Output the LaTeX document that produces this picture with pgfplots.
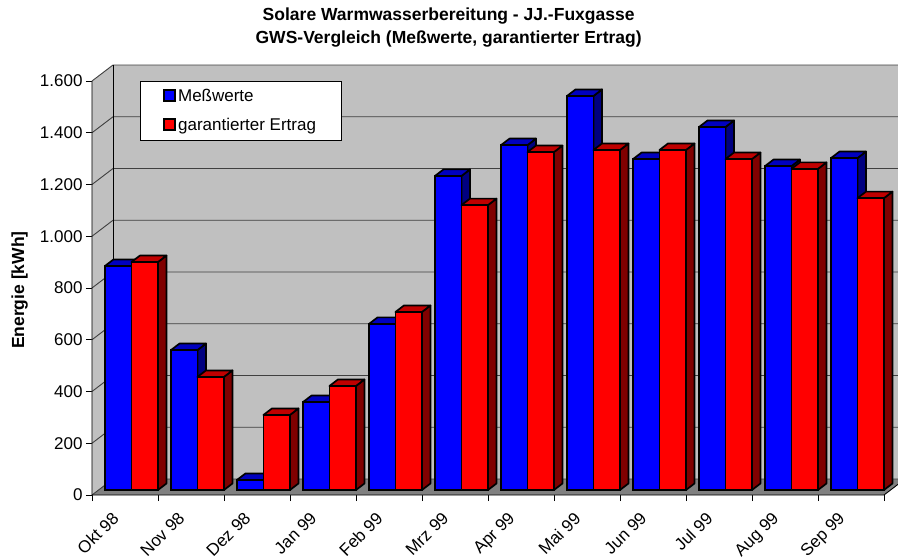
\documentclass[border=0pt]{standalone}
\usepackage{fontspec}
\setmainfont{Liberation Sans}
\usepackage{pgfplots}
\usepackage{pgfplotstable}
\pgfplotsset{compat=1.18}
\definecolor{wall}{HTML}{C0C0C0}
\definecolor{floorc}{HTML}{808080}
\definecolor{gridc}{HTML}{404040}
\definecolor{topblue}{HTML}{0000C0}
\definecolor{sideblue}{HTML}{000080}
\definecolor{topred}{HTML}{C00000}
\definecolor{sidered}{HTML}{800000}
\pgfplotstableread{
x blue red
0.5 866 881
1.5 541 437
2.5 39 290
3.5 340 402
4.5 642 688
5.5 1214 1101
6.5 1333 1306
7.5 1523 1314
8.5 1279 1314
9.5 1403 1279
10.5 1252 1241
11.5 1283 1128
}\energy
\newcommand{\defbarmark}[4]{%
 \pgfdeclareplotmark{#1}{%
  \pgfmathsetmacro\hh{\val*0.25875}%
  \pgfsetlinewidth{1.7pt}\pgfsetroundjoin
  \pgfsetstrokecolor{black}%
  \pgfsetfillcolor{#3}%
  \pgfpathmoveto{\pgfpoint{13.25pt}{0pt}}%
  \pgfpathlineto{\pgfpoint{21.75pt}{6.5pt}}%
  \pgfpathlineto{\pgfpoint{21.75pt}{6.5pt-\hh pt}}%
  \pgfpathlineto{\pgfpoint{13.25pt}{-\hh pt}}%
  \pgfpathclose
  \pgfusepath{fill,stroke}%
  \pgfsetfillcolor{#2}%
  \pgfpathmoveto{\pgfpoint{-13.25pt}{0pt}}%
  \pgfpathlineto{\pgfpoint{13.25pt}{0pt}}%
  \pgfpathlineto{\pgfpoint{21.75pt}{6.5pt}}%
  \pgfpathlineto{\pgfpoint{-4.75pt}{6.5pt}}%
  \pgfpathclose
  \pgfusepath{fill,stroke}%
  \pgfsetfillcolor{#4}%
  \pgfpathrectangle{\pgfpoint{-13.25pt}{-\hh pt}}{\pgfpoint{26.5pt}{\hh pt}}%
  \pgfusepath{fill,stroke}%
 }}
\defbarmark{facesblue}{topblue}{sideblue}{blue}
\defbarmark{facesred}{topred}{sidered}{red}
\begin{document}
\begin{tikzpicture}
\path[use as bounding box] (0,0) rectangle (898pt,558pt);
\begin{axis}[
  at={(92pt,63pt)}, anchor=south west,
  scale only axis, width=806pt, height=435pt,
  xmin=0, xmax=12.2121, ymin=0, ymax=1681.2,
  clip=false,
  axis line style={draw=none},
  xtick={0.5,1.5,2.5,3.5,4.5,5.5,6.5,7.5,8.5,9.5,10.5,11.5},
  xticklabels={Okt 98,Nov 98,Dez 98,Jan 99,Feb 99,Mrz 99,Apr 99,Mai 99,Jun 99,Jul 99,Aug 99,Sep 99},
  minor xtick={0,1,2,3,4,5,6,7,8,9,10,11,12},
  ytick={0,200,400,600,800,1000,1200,1400,1600},
  xtick pos=bottom, ytick pos=left, tick align=outside,
  major tick length=6pt, minor tick length=6pt,
  tick style={black,line width=0.8pt},
  major x tick style={draw=none},
  /pgf/number format/assume math mode=true,
  /pgf/number format/1000 sep={.},
  tick label style={font=\fontsize{17}{20}\selectfont},
  xticklabel style={rotate=45,anchor=north east,xshift=-13.4pt,yshift=6.3pt},
  ylabel={Energie [kWh]},
  ylabel style={at={(axis description cs:-0.0898,0.471)},anchor=center,font=\fontsize{17.5}{20}\selectfont\bfseries},
  title={Solare Warmwasserbereitung - JJ.-Fuxgasse\\GWS-Vergleich (Meßwerte, garantierter Ertrag)},
  title style={at={(axis description cs:0.4425,1.0598)},anchor=center,align=center,font=\fontsize{17.5}{23}\selectfont\bfseries},
  legend style={at={(axis description cs:0.05955,0.9517)},anchor=north west,draw=black,fill=white,
    line width=0.8pt,font=\fontsize{17}{20}\selectfont,inner xsep=23pt,inner ysep=6pt,row sep=11pt},
  legend cell align=left,
]
% walls and floor
\addplot[forget plot,draw=none,fill=wall] coordinates {(0,0)(0.318,61.8)(12.2121,61.8)(12.2121,1661.8)(0.318,1661.8)(0,1600)} --cycle;
\addplot[forget plot,draw=none,fill=floorc] coordinates {(0,0)(12,0)(12.2121,41.2)(12.2121,61.8)(0.318,61.8)} --cycle;
% grid
\addplot[forget plot,gridc,line width=0.9pt] coordinates {(0,200)(0.318,261.8)(12.2121,261.8)};
\addplot[forget plot,gridc,line width=0.9pt] coordinates {(0,400)(0.318,461.8)(12.2121,461.8)};
\addplot[forget plot,gridc,line width=0.9pt] coordinates {(0,600)(0.318,661.8)(12.2121,661.8)};
\addplot[forget plot,gridc,line width=0.9pt] coordinates {(0,800)(0.318,861.8)(12.2121,861.8)};
\addplot[forget plot,gridc,line width=0.9pt] coordinates {(0,1000)(0.318,1061.8)(12.2121,1061.8)};
\addplot[forget plot,gridc,line width=0.9pt] coordinates {(0,1200)(0.318,1261.8)(12.2121,1261.8)};
\addplot[forget plot,gridc,line width=0.9pt] coordinates {(0,1400)(0.318,1461.8)(12.2121,1461.8)};
\addplot[forget plot,gridc,line width=0.9pt] coordinates {(0,1600)(0.318,1661.8)(12.2121,1661.8)};
\addplot[forget plot,gridc,line width=0.9pt] coordinates {(0,0)(0.318,61.8)(12.2121,61.8)};
% frame lines
\addplot[forget plot,black,line width=0.9pt] coordinates {(0.318,61.8)(0.318,1661.8)};
\addplot[forget plot,black,line width=0.9pt] coordinates {(0,1600)(0,0)(12,0)(12.2121,41.2)};
% blue series
\addplot[ybar,bar width=0.4015,bar shift=-0.2,fill=blue,draw=black,line width=1.7pt,xshift=6.5pt,yshift=5pt,
  legend image code/.code={\draw[fill=blue,draw=black,line width=1.7pt] (0pt,-10pt) rectangle (11pt,1pt);}]
  table[x=x,y=blue] {\energy};
\addlegendentry{Meßwerte}
\addplot[forget plot,scatter,only marks,mark=facesblue,
  visualization depends on={\thisrow{blue}\as\val},
  scatter/@pre marker code/.code={\scope},scatter/@post marker code/.code={\endscope},
  xshift=-6.7pt,yshift=5pt] table[x=x,y=blue] {\energy};
% red series
\addplot[ybar,bar width=0.4015,bar shift=0.2,fill=red,draw=black,line width=1.7pt,xshift=6.5pt,yshift=5pt,
  legend image code/.code={\draw[fill=red,draw=black,line width=1.7pt] (0pt,-10pt) rectangle (11pt,1pt);}]
  table[x=x,y=red] {\energy};
\addlegendentry{garantierter Ertrag}
\addplot[forget plot,scatter,only marks,mark=facesred,
  visualization depends on={\thisrow{red}\as\val},
  scatter/@pre marker code/.code={\scope},scatter/@post marker code/.code={\endscope},
  xshift=19.7pt,yshift=5pt] table[x=x,y=red] {\energy};
\end{axis}
\end{tikzpicture}
\end{document}
